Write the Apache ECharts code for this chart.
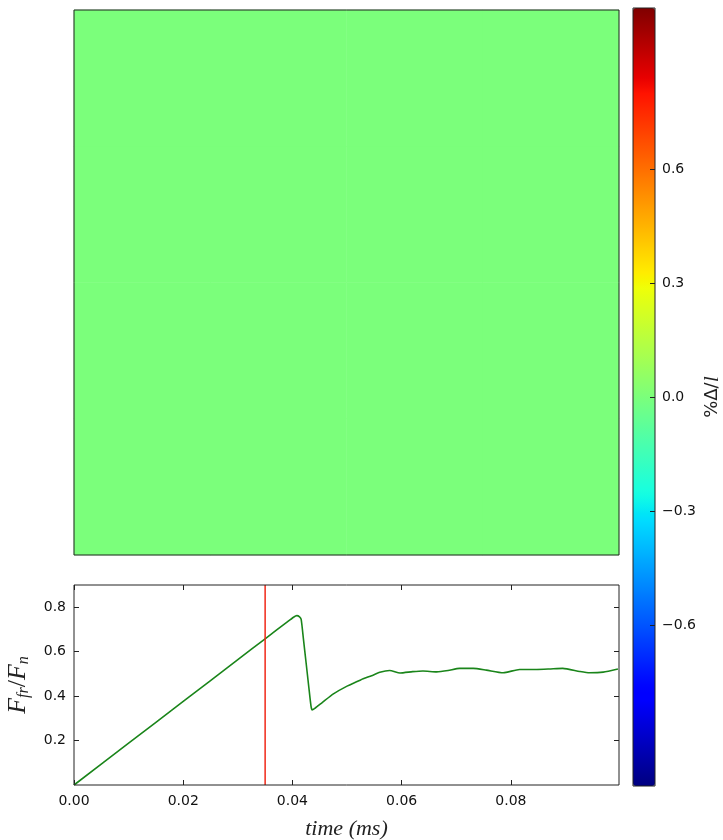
<!DOCTYPE html>
<html>
<head>
<meta charset="utf-8">
<script src="https://cdn.jsdelivr.net/npm/echarts@6/dist/echarts.min.js"></script>
<style>
html, body {margin: 0; padding: 0; background: #fff;}
#main {width: 723px; height: 840px;}
</style>
</head>
<body>
<div id="main"></div>
<script>
// top panel: %Δ/l field, all zero in this frame
var fieldRows = ['r0', 'r1', 'r2', 'r3'];
var fieldCols = ['c0', 'c1', 'c2', 'c3'];
var fieldValues = [
	[0, 0, 0, 0],
	[0, 0, 0, 0],
	[0, 0, 0, 0],
	[0, 0, 0, 0]
];
var cbarMin = -1.024, cbarMax = 1.024;
var cbarTicks = [-0.6, -0.3, 0.0, 0.3, 0.6];

// bottom panel: friction ratio vs time
var timeMs = [0, 0.01, 0.02, 0.03, 0.035, 0.039, 0.0402, 0.0408, 0.0413, 0.0416, 0.0420, 0.0425, 0.0430, 0.0434, 0.0436,
	0.0441, 0.0455, 0.0475, 0.0500, 0.0525, 0.0545, 0.0560, 0.0578, 0.0597, 0.0620, 0.0639, 0.0664, 0.0685, 0.0706,
	0.0731, 0.0755, 0.0786, 0.0816, 0.0847, 0.0870, 0.0895, 0.0926, 0.0944, 0.0969, 0.0996];
var ffrFn = [0, 0.188, 0.376, 0.564, 0.658, 0.733, 0.755, 0.762, 0.757, 0.745, 0.66, 0.55, 0.44, 0.355, 0.338,
	0.345, 0.372, 0.41, 0.445, 0.473, 0.492, 0.507, 0.515, 0.504, 0.51, 0.513, 0.509, 0.515, 0.525,
	0.525, 0.517, 0.505, 0.52, 0.52, 0.522, 0.525, 0.511, 0.505, 0.508, 0.522];
var markTime = 0.035;
var markSpan = [0, 0.9];
var xTicks = [0, 0.02, 0.04, 0.06, 0.08];
var yTicks = [0.2, 0.4, 0.6, 0.8];

// matplotlib jet
function jet(t){
	var seg = function(pts){
		for (var i = 1; i < pts.length; i++) {
			if (t <= pts[i][0]) {
				var a = pts[i-1], b = pts[i];
				return a[1] + (b[1] - a[1]) * (t - a[0]) / (b[0] - a[0]);
			}
		}
		return pts[pts.length-1][1];
	};
	var r = seg([[0,0],[0.35,0],[0.66,1],[0.89,1],[1,0.5]]);
	var g = seg([[0,0],[0.125,0],[0.375,1],[0.64,1],[0.91,0],[1,0]]);
	var b = seg([[0,0.5],[0.11,1],[0.34,1],[0.65,0],[1,0]]);
	return 'rgb(' + Math.round(r*255) + ',' + Math.round(g*255) + ',' + Math.round(b*255) + ')';
}
var jetColors = [];
for (var k = 0; k <= 100; k++) jetColors.push(jet(k / 100));

var heatData = [];
for (var i = 0; i < fieldRows.length; i++) {
	for (var j = 0; j < fieldCols.length; j++) heatData.push([j, i, fieldValues[i][j]]);
}
var lineData = timeMs.map(function(t, i){ return [t, ffrFn[i]]; });
var markData = markSpan.map(function(v){ return [markTime, v]; });

var tickFont = {fontFamily: 'DejaVu Sans', fontSize: 14, color: '#111'};
var serifName = {fontFamily: 'Liberation Serif', fontStyle: 'italic', fontSize: 22, color: '#222'};
var minus = function(v){ return v.toFixed(1).replace('-', '\u2212'); };
var tickStyle = function(vals){
	return {inside: true, length: 5, customValues: vals, lineStyle: {color: '#222'}};
};
var noLine = {show: false, onZero: false};
var box = {show: true, borderColor: '#222', borderWidth: 1, backgroundColor: 'transparent', outerBoundsMode: 'none', containLabel: false};

var chart = echarts.init(document.getElementById('main'));
chart.setOption({
	animation: false,
	backgroundColor: '#fff',
	grid: [
		Object.assign({left: 74, top: 10, width: 545, height: 545, z: 5}, box),
		Object.assign({left: 74, top: 585, width: 545, height: 200, z: 5}, box),
		Object.assign({left: 633, top: 8, width: 22, height: 778, z: 10}, box)
	],
	visualMap: {
		type: 'continuous',
		seriesIndex: 0,
		min: cbarMin, max: cbarMax,
		calculable: false,
		text: null,
		showLabel: false,
		left: 633, top: 8,
		padding: 0,
		z: 1,
		itemWidth: 22, itemHeight: 778,
		inRange: {color: jetColors}
	},
	xAxis: [
		{gridIndex: 0, type: 'category', data: fieldCols, show: false},
		{gridIndex: 1, type: 'value', min: 0, max: 0.0998,
			name: 'time (ms)', nameLocation: 'middle', nameGap: 33, nameTextStyle: serifName,
			axisLine: noLine, splitLine: {show: false}, axisTick: tickStyle(xTicks),
			axisLabel: Object.assign({margin: 9, customValues: xTicks, formatter: function(v){ return v.toFixed(2); }}, tickFont)},
		{gridIndex: 1, type: 'value', position: 'top', min: 0, max: 0.0998,
			axisLine: noLine, splitLine: {show: false}, axisLabel: {show: false}, axisTick: tickStyle(xTicks)},
		{gridIndex: 2, type: 'value', show: false, min: 0, max: 1}
	],
	yAxis: [
		{gridIndex: 0, type: 'category', data: fieldRows, show: false},
		{gridIndex: 1, type: 'value', min: 0, max: 0.9,
			name: '{i|F}{s|fr}{u|/}{i|F}{s|n}', nameLocation: 'middle', nameGap: 42, nameRotate: 90,
			nameTextStyle: {rich: {
				i: {fontFamily: 'Liberation Serif', fontStyle: 'italic', fontSize: 26, color: '#222'},
				u: {fontFamily: 'Liberation Serif', fontSize: 26, color: '#222'},
				s: {fontFamily: 'Liberation Serif', fontStyle: 'italic', fontSize: 16, color: '#222', verticalAlign: 'bottom', padding: [11, 0, 0, 0]}
			}},
			axisLine: noLine, splitLine: {show: false}, axisTick: tickStyle(yTicks),
			axisLabel: Object.assign({margin: 8, customValues: yTicks, formatter: function(v){ return v.toFixed(1); }}, tickFont)},
		{gridIndex: 1, type: 'value', position: 'right', min: 0, max: 0.9,
			axisLine: noLine, splitLine: {show: false}, axisLabel: {show: false}, axisTick: tickStyle(yTicks)},
		{gridIndex: 2, type: 'value', position: 'right', min: cbarMin, max: cbarMax, z: 12,
			name: '%\u0394/{i|l}', nameLocation: 'middle', nameGap: 46, nameRotate: 90,
			nameTextStyle: {fontFamily: 'DejaVu Sans', fontSize: 18, color: '#222', rich: {i: serifName}},
			axisLine: noLine, splitLine: {show: false}, axisTick: tickStyle(cbarTicks),
			axisLabel: Object.assign({margin: 7, customValues: cbarTicks, formatter: minus}, tickFont)}
	],
	series: [
		{type: 'heatmap', xAxisIndex: 0, yAxisIndex: 0, data: heatData, z: 1, itemStyle: {borderWidth: 0}, emphasis: {disabled: true}},
		{type: 'line', xAxisIndex: 1, yAxisIndex: 1, data: lineData, showSymbol: false, smooth: 0.2,
			lineStyle: {color: '#1a851a', width: 1.6}},
		{type: 'line', xAxisIndex: 1, yAxisIndex: 1, data: markData, showSymbol: false, silent: true,
			lineStyle: {color: '#f02818', width: 1.5}}
	]
});
</script>
</body>
</html>
